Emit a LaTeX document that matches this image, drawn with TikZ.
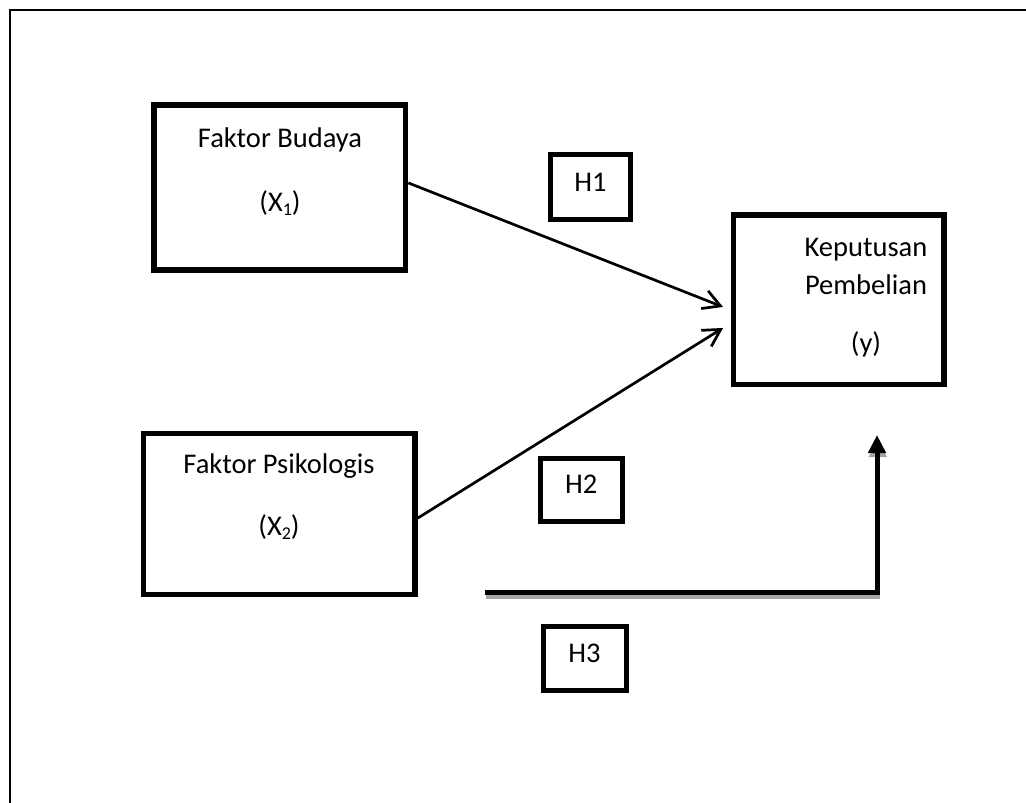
\documentclass[tikz,border=0pt]{standalone}
\usepackage{fontspec}
\setmainfont{Carlito}
\usepackage{xcolor}
\usepackage{tikz}
\usetikzlibrary{arrows.meta,positioning}
\definecolor{shadowgray}{RGB}{165,165,165}
\newcommand{\subidx}[1]{\raisebox{-4pt}{\fontsize{18}{18}\selectfont #1}}
\tikzset{
 varbox/.style={
 rectangle,
 draw=black,
 line width=5.5pt,
 inner sep=0pt
 },
 hypbox/.style={
 rectangle,
 draw=black,
 line width=5pt,
 inner sep=0pt,
 text height=18pt,
 text depth=10pt
 },
 boxtext/.style={anchor=base, inner sep=0pt},
 frameline/.style={line width=2.5pt},
 effectarrow/.style={-{Straight Barb[length=17pt, width=19pt]}, line width=2.7pt},
 jointarrow/.style={
 -{Triangle[length=18pt, width=17pt]},
 line width=5pt,
 preaction={draw=shadowgray, line width=5pt, -{Triangle[length=18pt, width=17pt]},
 transform canvas={xshift=0.8pt, yshift=-4pt}}
 }
}

\begin{document}
\begin{tikzpicture}[x=1pt, y=-1pt, font=\fontsize{28.5}{34}\selectfont]
 \useasboundingbox (0,0) rectangle (1026,803);
 % outer frame
 \coordinate (framebl) at (10,803);
 \coordinate (frametl) at (10,10);
 \coordinate (frametr) at (1026,10);
 \draw[frameline] (framebl) -- (frametl) -- (frametr);
 % variables
 \node[varbox, minimum width=251.5pt, minimum height=165pt] (budaya) at (279.75,187.4) {};
 \node[boxtext] (budayaname) at (280,147) {Faktor Budaya};
 \node[boxtext] (budayasym) at (280,211) {(X\subidx{1})};
 \node[varbox, minimum width=271.3pt, minimum height=160.8pt] (psikologis) at (279.35,514.1) {};
 \node[boxtext] (psikologisname) at (279,473) {Faktor Psikologis};
 \node[boxtext] (psikologissym) at (279,535) {(X\subidx{2})};
 \node[varbox, minimum width=210.7pt, minimum height=169.7pt] (keputusan) at (838.65,299.65) {};
 \node[boxtext] (keputusanname) at (866,256) {Keputusan};
 \node[boxtext] (keputusanname2) at (866,294) {Pembelian};
 \node[boxtext] (keputusansym) at (866,352) {(y)};
 % hypotheses
 \node[hypbox, minimum width=80pt, minimum height=65pt] (hone) at (590.5,187) {H1};
 \node[hypbox, minimum width=81.5pt, minimum height=63pt] (htwo) at (581.25,489.5) {H2};
 \node[hypbox, minimum width=83pt, minimum height=63.5pt] (hthree) at (584.5,658.25) {H3};
 % paths
 \draw[effectarrow] ([yshift=4.5pt]budaya.east) -- ([xshift=-7.5pt, yshift=-7.3pt]keputusan.west);
 \draw[effectarrow] ([yshift=-4pt]psikologis.east) -- ([xshift=-7.5pt, yshift=-28.3pt]keputusan.west);
 \coordinate (jointstart) at (485,592.7);
 \coordinate (jointend) at (877,435);
 \draw[jointarrow] (jointstart) -| (jointend);
\end{tikzpicture}
\end{document}
